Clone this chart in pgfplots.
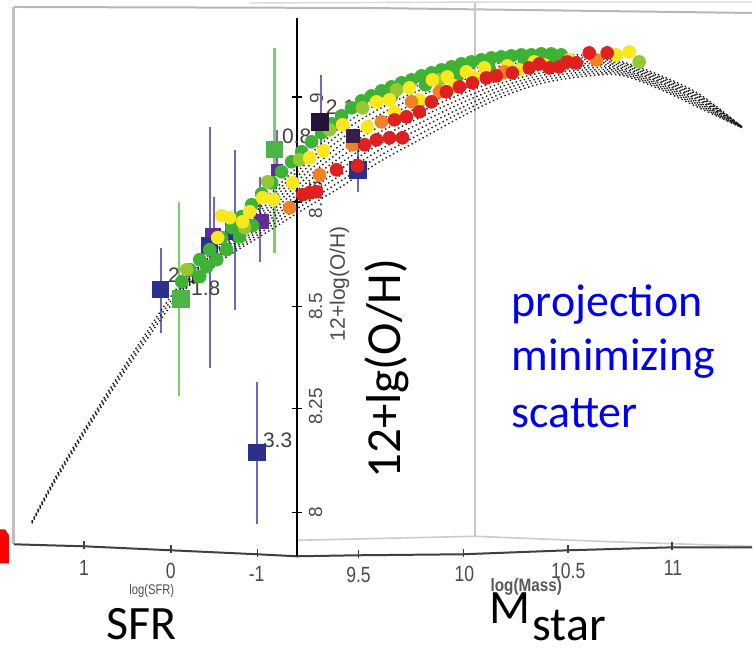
\documentclass[border=0pt]{standalone}
\usepackage{pgfplots}
\pgfplotsset{compat=1.18}
\usepackage{pgfplotstable}
\usepackage{fontspec}
\setmainfont{Carlito}
\newfontfamily\lib{Liberation Sans}
\definecolor{cG}{RGB}{62,178,52}
\definecolor{cLG}{RGB}{150,200,50}
\definecolor{cY}{RGB}{250,232,30}
\definecolor{cO}{RGB}{240,130,35}
\definecolor{cR}{RGB}{222,32,32}
\definecolor{cNavy}{RGB}{42,48,140}
\definecolor{cLav}{RGB}{105,105,195}
\definecolor{cPur}{RGB}{95,45,150}
\definecolor{cPurBar}{RGB}{130,95,185}
\definecolor{cSq}{RGB}{75,182,70}
\definecolor{cGBar}{RGB}{125,205,105}
\definecolor{cDark}{RGB}{35,20,55}
\definecolor{cDarkP}{RGB}{55,28,80}
\definecolor{pblue}{RGB}{0,0,240}

% dotted model surface: x in px, rows t0..t10 (y in px from top)
\pgfplotstableread{
x t0 t1 t2 t3 t4 t5 t6 t7 t8 t9 t10
32 522 522.2 522.4 522.6 522.8 523 523.2 523.4 523.6 523.8 524
60 470 470.4 470.8 471.2 471.6 472 472.4 472.8 473.2 473.6 474
100 405 405.5 406 406.5 407 407.5 408 408.5 409 409.5 410
140 343 343.7 344.4 345.1 345.8 346.5 347.2 347.9 348.6 349.3 350
180 285 286 287 288 289 290 291 292 293 294 295
220 245 246.7 248.4 250.1 251.8 253.5 255.2 256.9 258.6 260.3 262
260 205 208.2 211.4 214.6 217.8 221 224.2 227.4 230.6 233.8 237
300 165 169.7 174.4 179.1 183.8 188.5 193.2 197.9 202.6 207.3 212
340 128 134 140 146 152 158 164 170 176 182 188
380 103 108.9 114.8 120.7 126.6 132.5 138.4 144.3 150.2 156.1 162
420 85 90.5 96 101.5 107 112.5 118 123.5 129 134.5 140
460 72 76.6 81.2 85.8 90.4 95 99.6 104.2 108.8 113.4 118
500 63 66.5 70 73.5 77 80.5 84 87.5 91 94.5 98
540 57 59.7 62.4 65.1 67.8 70.5 73.2 75.9 78.6 81.3 84
580 55 57.2 59.4 61.6 63.8 66 68.2 70.4 72.6 74.8 77
620 61 62.4 63.8 65.2 66.6 68 69.4 70.8 72.2 73.6 75
660 75 76.4 77.8 79.2 80.6 82 83.4 84.8 86.2 87.6 89
700 94 95.4 96.8 98.2 99.6 101 102.4 103.8 105.2 106.6 108
743 127 127.1 127.2 127.3 127.4 127.5 127.6 127.7 127.8 127.9 128
}\band

\begin{document}
\begin{tikzpicture}
\begin{axis}[
  scale only axis, width=376.5pt, height=326pt,
  xmin=0, xmax=753, ymin=0, ymax=652, y dir=reverse,
  hide axis, clip=false,
  dotsty/.style={black!90, line width=0.7pt, dash pattern=on 0.7pt off 1.4pt, smooth},
  pts/.style={only marks, mark=*, mark size=3.2pt},
]
% background
\addplot[fill=white, draw=none] coordinates {(0,0)(753,0)(753,652)(0,652)} --cycle;

% frame of the 3D box
\addplot[black!25, line width=1.5pt] coordinates {(14,545)(14,7)};
\addplot[black!28, line width=1pt] coordinates {(14,7)(370,8)(753,13)};
\addplot[black!15, line width=0.7pt] coordinates {(250,3)(500,2)(753,2)};
\addplot[black!22, line width=1pt] coordinates {(476,3)(476,538)};
\addplot[black!20, line width=0.8pt] coordinates {(297,541)(476,537)(600,542)(753,547)};
\addplot[black!75, line width=1pt] coordinates {(14,545)(84,547)(171,551)(258,555)(297,557)(358,556)(463,555)(569,551)(674,548)(753,548)};
% bottom ticks
\addplot[black!75, line width=0.8pt] coordinates {(84,542)(84,550)};
\addplot[black!75, line width=0.8pt] coordinates {(171,546)(171,554)};
\addplot[black!75, line width=0.8pt] coordinates {(258,550)(258,558)};
\addplot[black!75, line width=0.8pt] coordinates {(359,551)(359,559)};
\addplot[black!75, line width=0.8pt] coordinates {(464,550)(464,558)};
\addplot[black!75, line width=0.8pt] coordinates {(569,546)(569,554)};
\addplot[black!75, line width=0.8pt] coordinates {(673,543)(673,551)};

% red fragment at left edge
\addplot[fill=red, draw=none] coordinates {(0,530)(5,530)(9,536)(9,564)(0,564)} --cycle;

% vertical metallicity axis
\addplot[black, line width=1pt] coordinates {(297,18)(297,557)};
\addplot[black, line width=0.8pt] coordinates {(292,513)(302,513)};
\addplot[black, line width=0.8pt] coordinates {(292,409)(302,409)};
\addplot[black, line width=0.8pt] coordinates {(292,307)(302,307)};
\addplot[black, line width=0.8pt] coordinates {(292,202)(302,202)};
\addplot[black, line width=0.8pt] coordinates {(292,97)(302,97)};
\node[rotate=90, font=\lib\fontsize{9.5}{9.5}\selectfont, text=black!70] at (axis cs:316,513) {8};
\node[rotate=90, font=\lib\fontsize{9.5}{9.5}\selectfont, text=black!70] at (axis cs:316,407) {8.25};
\node[rotate=90, font=\lib\fontsize{9.5}{9.5}\selectfont, text=black!70] at (axis cs:316,307) {8.5};
\node[rotate=90, font=\lib\fontsize{9.5}{9.5}\selectfont, text=black!70] at (axis cs:316,200) {8.75};
\node[rotate=90, font=\lib\fontsize{9.5}{9.5}\selectfont, text=black!70] at (axis cs:317,98) {9};
\node[rotate=90, font=\lib\fontsize{10.5}{10.5}\selectfont, text=black!70] at (axis cs:340,284) {12+log(O/H)};

% error bars
\addplot[cLav, line width=1pt] coordinates {(161,248)(161,333)};
\addplot[cGBar, line width=1.2pt] coordinates {(179,202)(179,397)};
\addplot[cLav, line width=1pt] coordinates {(210,127)(210,368)};
\addplot[cPurBar, line width=1pt] coordinates {(214,197)(214,268)};
\addplot[cLav, line width=1pt] coordinates {(235,150)(235,310)};
\addplot[cPurBar, line width=1pt] coordinates {(260,177)(260,262)};
\addplot[cGBar, line width=1.2pt] coordinates {(275,48)(275,253)};
\addplot[cPurBar, line width=1pt] coordinates {(277,130)(277,175)};
\addplot[cPurBar, line width=1pt] coordinates {(321,75)(321,150)};
\addplot[cLav, line width=1pt] coordinates {(358,145)(358,192)};
\addplot[cLav, line width=1pt] coordinates {(257,382)(257,525)};

% squares under the points
\addplot[only marks, mark=square*, mark size=3.6pt, cPur] coordinates {(213,236)};
\addplot[only marks, mark=square*, mark size=4pt, cNavy] coordinates {(210,246)};
\addplot[only marks, mark=square*, mark size=4pt, cNavy] coordinates {(234,232)};
\addplot[only marks, mark=square*, mark size=3.5pt, cPur] coordinates {(262,222)};
\addplot[only marks, mark=square*, mark size=2.8pt, cPur] coordinates {(277,170)};
\addplot[only marks, mark=square*, mark size=4.2pt, cNavy] coordinates {(358,170)};

% labels of the squares
\node[font=\lib\fontsize{10.5}{10.5}\selectfont, text=black!75] at (axis cs:183,276) {2.3};
\node[font=\lib\fontsize{10.5}{10.5}\selectfont, text=black!75] at (axis cs:206,289) {1.8};
\node[font=\lib\fontsize{10.5}{10.5}\selectfont, text=black!75] at (axis cs:297,136) {0.8};
\node[font=\lib\fontsize{10.5}{10.5}\selectfont, text=black!75] at (axis cs:341,107) {2.1};
\node[font=\lib\fontsize{10.5}{10.5}\selectfont, text=black!75] at (axis cs:278,441) {3.3};

% dotted model surface
\addplot[dotsty] table[x=x, y=t0] {\band};
\addplot[dotsty, restrict x to domain=170:760] table[x=x, y=t1] {\band};
\addplot[dotsty, restrict x to domain=170:760] table[x=x, y=t2] {\band};
\addplot[dotsty, restrict x to domain=170:760] table[x=x, y=t3] {\band};
\addplot[dotsty, restrict x to domain=170:760] table[x=x, y=t4] {\band};
\addplot[dotsty] table[x=x, y=t5] {\band};
\addplot[dotsty, restrict x to domain=170:760] table[x=x, y=t6] {\band};
\addplot[dotsty, restrict x to domain=170:760] table[x=x, y=t7] {\band};
\addplot[dotsty, restrict x to domain=170:760] table[x=x, y=t8] {\band};
\addplot[dotsty, restrict x to domain=170:760] table[x=x, y=t9] {\band};
\addplot[dotsty] table[x=x, y=t10] {\band};

% coloured data points
\addplot[pts, cG] coordinates {
(182,282)(190,270)(200,260)(210,250)(222,238)(232,228)(242,217)
(252,205)(262,194)(272,183)(282,172)(292,162)(302,152)(312,142)(322,133)(332,124)(342,116)
(352,108)(362,101)(372,96)(382,91)(392,87)(402,83)(412,80)(422,76)(432,73)(442,70)(452,67)
(462,64)(472,62)(482,60)(492,58)(502,57)(512,56)(522,55)(532,55)(542,54)(552,54)(562,55)
(200,277)(207,267)(217,260)(227,250)(240,237)(253,226)
(392,96)(426,85)(458,76)(490,69)(525,63)(555,60)};
\addplot[pts, cLG] coordinates {(187,270)(268,182)(300,160)(330,130)(363,108)(397,90)(640,62)(245,228)(440,80)};
\addplot[pts, cY] coordinates {
(218,238)(222,216)(230,218)(243,222)(250,212)(263,198)(274,200)(293,183)(310,158)(324,151)
(343,125)(368,127)(377,102)(390,100)(395,112)(410,88)(420,100)(433,80)(448,77)(455,86)
(467,72)(485,68)(500,75)(520,70)(545,65)(570,60)(617,55)(630,52)(475,78)(508,66)(535,62)};
\addplot[pts, cO] coordinates {(290,208)(320,175)(353,145)(382,122)(412,102)(440,92)(597,60)(505,72)};
\addplot[pts, cR] coordinates {
(303,195)(310,193)(317,192)(337,170)(358,166)(365,145)(377,140)(390,138)(403,138)(395,120)
(407,117)(420,112)(432,102)(447,92)(460,87)(473,83)(487,78)(497,76)(513,73)(530,68)(540,64)
(550,68)(560,67)(568,62)(577,63)(590,53)(608,53)};

% squares on top
\addplot[only marks, mark=square*, mark size=4pt, cNavy] coordinates {(161,290)};
\addplot[only marks, mark=square*, mark size=4.3pt, cSq] coordinates {(181,299)};
\addplot[only marks, mark=square*, mark size=4pt, cSq] coordinates {(275,150)};
\addplot[only marks, mark=square*, mark size=4.2pt, cDark] coordinates {(320,122)};
\addplot[only marks, mark=square*, mark size=3.3pt, cDarkP] coordinates {(353,136)};
\addplot[only marks, mark=square*, mark size=4.2pt, cNavy] coordinates {(257,453)};
\addplot[pts, cR] coordinates {(358,166)};

% bottom tick labels
\node[font=\lib\fontsize{11}{11}\selectfont, text=black!70, xscale=0.8] at (axis cs:84,569) {1};
\node[font=\lib\fontsize{11}{11}\selectfont, text=black!70, xscale=0.8] at (axis cs:171,572) {0};
\node[font=\lib\fontsize{11}{11}\selectfont, text=black!70, xscale=0.8] at (axis cs:257,575) {-1};
\node[font=\lib\fontsize{11}{11}\selectfont, text=black!70, xscale=0.8] at (axis cs:359,576) {9.5};
\node[font=\lib\fontsize{11}{11}\selectfont, text=black!70, xscale=0.8] at (axis cs:465,575) {10};
\node[font=\lib\fontsize{11}{11}\selectfont, text=black!70, xscale=0.8] at (axis cs:569,572) {10.5};
\node[font=\lib\fontsize{11}{11}\selectfont, text=black!70, xscale=0.8] at (axis cs:674,569) {11};
\node[font=\lib\fontsize{7}{7}\selectfont, text=black!70, xscale=0.8] at (axis cs:152,592) {log(SFR)};
\node[font=\lib\bfseries\fontsize{9}{9}\selectfont, text=black!65, xscale=0.85, inner sep=1pt] at (axis cs:527,588) {log(Mass)};

% large annotations
\node[anchor=base west, font=\fontsize{23}{23}\selectfont, text=pblue, inner sep=0pt] at (axis cs:512,317) {projection};
\node[anchor=base west, font=\fontsize{23}{23}\selectfont, text=pblue, inner sep=0pt] at (axis cs:512,371) {minimizing};
\node[anchor=base west, font=\fontsize{23}{23}\selectfont, text=pblue, inner sep=0pt] at (axis cs:512,428) {scatter};
\node[rotate=90, anchor=base, font=\fontsize{24.5}{24.5}\selectfont, inner sep=0pt] at (axis cs:401,369) {12+lg(O/H)};
\node[anchor=base, font=\fontsize{24}{24}\selectfont, inner sep=0pt] at (axis cs:142,640) {SFR};
\node[anchor=base west, font=\fontsize{24}{24}\selectfont, inner sep=0pt] at (axis cs:490,624) {M};
\node[anchor=base west, font=\fontsize{24}{24}\selectfont, inner sep=0pt] at (axis cs:533,641) {star};
\end{axis}
\end{tikzpicture}
\end{document}
